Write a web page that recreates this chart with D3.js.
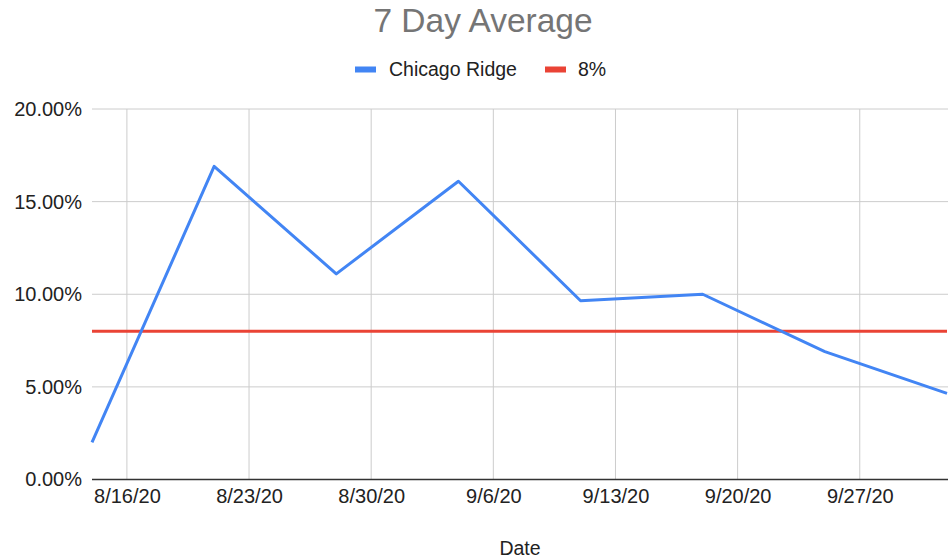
<!DOCTYPE html>
<html><head><meta charset="utf-8">
<script src="https://cdn.jsdelivr.net/npm/d3@7"></script>
<style>body{margin:0;background:#fff;}svg{display:block;font-family:"Liberation Sans",Arial,sans-serif;}</style>
</head><body>
<svg id="chart" width="952" height="559"></svg>
<script>
const dates = ["2020-08-14","2020-08-21","2020-08-28","2020-09-04","2020-09-11","2020-09-18","2020-09-25","2020-10-02"];
const chicagoRidge = [0.020, 0.169, 0.111, 0.161, 0.0965, 0.100, 0.069, 0.0465];
const threshold = [0.08, 0.08, 0.08, 0.08, 0.08, 0.08, 0.08, 0.08];
const xTicks = ["2020-08-16","2020-08-23","2020-08-30","2020-09-06","2020-09-13","2020-09-20","2020-09-27"];
const yTicks = [0, 0.05, 0.10, 0.15, 0.20];
const seriesNames = ["Chicago Ridge", "8%"];
const colors = ["#4285f4", "#ea4335"];

const FONT = '"Liberation Sans",Arial,sans-serif';
const parse = d3.utcParse("%Y-%m-%d");
const svg = d3.select("#chart");
const x = d3.scaleUtc().domain([parse(dates[0]), parse(dates[dates.length-1])]).range([92, 947]);
const y = d3.scaleLinear().domain([0, 0.20]).range([479.5, 109]);

// title
svg.append("text").attr("x", 483).attr("y", 32).attr("text-anchor", "middle")
  .attr("font-size", 33.5).attr("fill", "#757575").text("7 Day Average");

// legend
const leg = [{x:355, tx:389}, {x:545, tx:578}];
seriesNames.forEach((n, i) => {
  svg.append("rect").attr("x", leg[i].x).attr("y", 66.5).attr("width", 21).attr("height", 6).attr("fill", colors[i]);
  svg.append("text").attr("x", leg[i].tx).attr("y", 76).attr("font-size", 19.5).attr("fill", "#222").text(n);
});

// horizontal grid
svg.append("g").selectAll("line").data(yTicks.filter(d => d > 0)).join("line")
  .attr("x1", 92).attr("x2", 948).attr("y1", d => y(d)).attr("y2", d => y(d))
  .attr("stroke", "#cccccc").attr("stroke-width", 1);
// vertical grid
svg.append("g").selectAll("line").data(xTicks).join("line")
  .attr("x1", d => x(parse(d))).attr("x2", d => x(parse(d)))
  .attr("y1", 109).attr("y2", 479.5).attr("stroke", "#cccccc").attr("stroke-width", 1);

// y axis labels
const yAxis = d3.axisLeft(y).tickValues(yTicks).tickFormat(d3.format(".2%")).tickSize(0).tickPadding(10);
const gy = svg.append("g").attr("transform", "translate(92,0)").call(yAxis);
gy.select(".domain").remove();
gy.selectAll("text").attr("font-size", 20).attr("fill", "#222").attr("font-family", FONT);

// x axis
const fmt = d => `${d.getUTCMonth()+1}/${d.getUTCDate()}/${String(d.getUTCFullYear()).slice(2)}`;
const xAxis = d3.axisBottom(x).tickValues(xTicks.map(parse)).tickFormat(fmt).tickSize(0).tickPadding(9);
const gx = svg.append("g").attr("transform", "translate(0,479.5)").call(xAxis);
gx.select(".domain").attr("stroke", "#333").attr("stroke-width", 1.5).attr("d", "M92,0H948");
gx.selectAll("text").attr("font-size", 20).attr("fill", "#222").attr("font-family", FONT);

// x title
svg.append("text").attr("x", 520).attr("y", 555).attr("text-anchor", "middle")
  .attr("font-size", 19.5).attr("fill", "#222").text("Date");

// lines
const line = d3.line().x((d, i) => x(parse(dates[i]))).y(d => y(d));
svg.append("path").datum(threshold).attr("d", line).attr("fill", "none")
  .attr("stroke", colors[1]).attr("stroke-width", 3);
svg.append("path").datum(chicagoRidge).attr("d", line).attr("fill", "none")
  .attr("stroke", colors[0]).attr("stroke-width", 3).attr("stroke-linejoin", "round");
</script>
</body></html>
